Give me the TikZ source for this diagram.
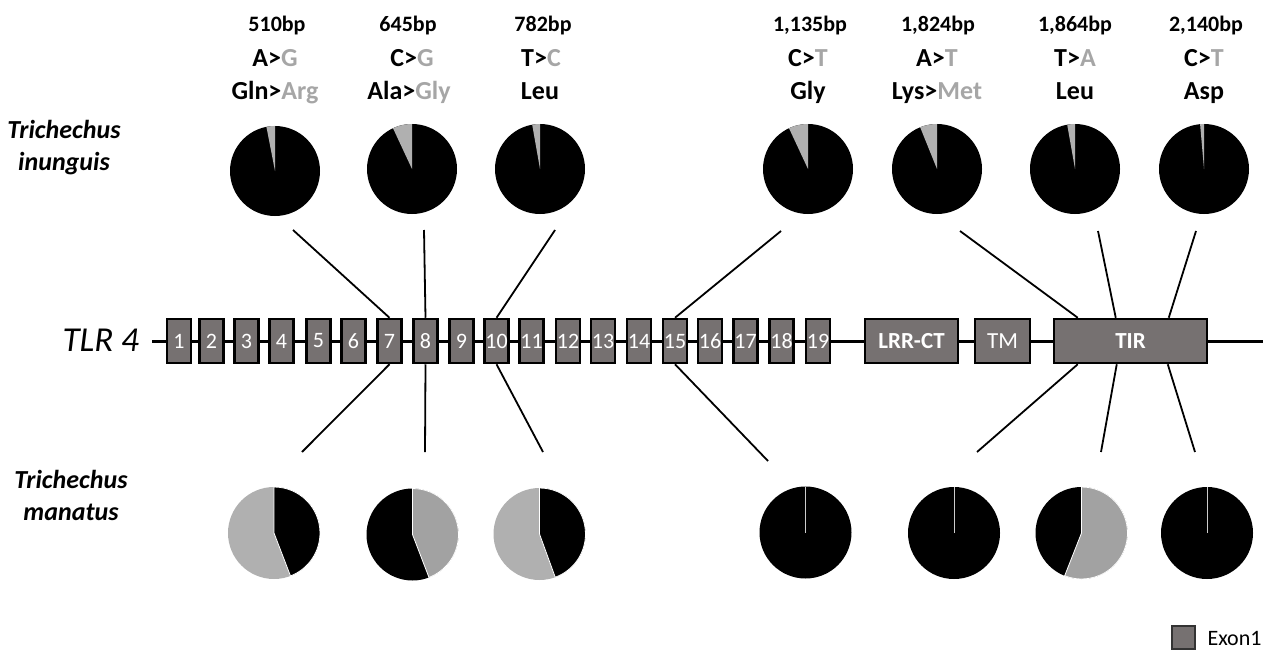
\documentclass[tikz,border=0pt]{standalone}
\usepackage{fontspec}
\setmainfont{Carlito}
\usetikzlibrary{calc}
\definecolor{exongray}{HTML}{767171}
\definecolor{piegray}{HTML}{B0B0B0}
\definecolor{snpgray}{HTML}{A6A6A6}

\begin{document}
\begin{tikzpicture}[x=1pt,y=1pt,
        exon/.style={draw=black, line width=2.5, fill=exongray, text=white, minimum width=24, minimum height=44, inner sep=0, font=\fontsize{22}{24}\selectfont},
        protdomain/.style={exon, font=\fontsize{23}{25}\selectfont\bfseries},
        pie/.style={circle, fill=black, inner sep=0, minimum size=90},
        lowpie/.style={pie, minimum size=92},
        lab/.style={anchor=base, font=\fontsize{22}{26}\selectfont\bfseries},
        snp/.style={lab, font=\fontsize{26}{30}\selectfont\bfseries},
        species/.style={anchor=base, align=center, font=\fontsize{26}{32}\selectfont\bfseries\itshape},
        link/.style={line width=1.8}]
            \useasboundingbox (0,0) rectangle (1263,-650);

            % gene backbone
            \coordinate (gstart) at (152,-341);
            \coordinate (gend) at (1263,-341);
            \draw[line width=3] (gstart) -- (gend);
            \node[anchor=base west, font=\fontsize{35}{40}\selectfont\itshape] (tlr) at (59,-351) {TLR 4};

            % exons
            \node[exon] (e1) at (179,-341) {1};
            \node[exon] (e2) at (211.5,-341) {2};
            \node[exon] (e3) at (246.5,-341) {3};
            \node[exon] (e4) at (281.5,-341) {4};
            \node[exon] (e5) at (318.5,-341) {5};
            \node[exon] (e6) at (353.5,-341) {6};
            \node[exon] (e7) at (389.5,-341) {7};
            \node[exon] (e8) at (425.5,-341) {8};
            \node[exon] (e9) at (461.5,-341) {9};
            \node[exon] (e10) at (496.5,-341) {10};
            \node[exon] (e11) at (531.5,-341) {11};
            \node[exon] (e12) at (568,-341) {12};
            \node[exon] (e13) at (603,-341) {13};
            \node[exon] (e14) at (639,-341) {14};
            \node[exon] (e15) at (675,-341) {15};
            \node[exon] (e16) at (710,-341) {16};
            \node[exon] (e17) at (745.5,-341) {17};
            \node[exon] (e18) at (781.5,-341) {18};
            \node[exon] (e19) at (818,-341) {19};
            \node[protdomain, minimum width=93] (lrr) at (911.5,-341) {LRR-CT};
            \node[exon, minimum width=55, font=\fontsize{23}{25}\selectfont] (tm) at (1002.5,-341) {TM};
            \node[protdomain, minimum width=153] (tir) at (1130.5,-341) {TIR};

            % species
            \node[species] (inung) at (64,-170) {Trichechus\\inunguis};
            \node[species] (manat) at (71,-520) {Trichechus\\manatus};

            % SNP labels
            \node[lab] (bp1) at (277,-32) {510bp};
            \node[snp] (nt1) at (275,-67) {A>\textcolor{snpgray}{G}};
            \node[snp] (aa1) at (275,-100) {Gln>\textcolor{snpgray}{Arg}};
            \node[lab] (bp2) at (408,-32) {645bp};
            \node[snp] (nt2) at (412,-67) {C>\textcolor{snpgray}{G}};
            \node[snp] (aa2) at (409,-100) {Ala>\textcolor{snpgray}{Gly}};
            \node[lab] (bp3) at (543,-32) {782bp};
            \node[snp] (nt3) at (541,-67) {T>\textcolor{snpgray}{C}};
            \node[snp] (aa3) at (540,-100) {Leu};
            \node[lab] (bp4) at (810,-32) {1,135bp};
            \node[snp] (nt4) at (808,-67) {C>\textcolor{snpgray}{T}};
            \node[snp] (aa4) at (808,-100) {Gly};
            \node[lab] (bp5) at (938,-32) {1,824bp};
            \node[snp] (nt5) at (937,-67) {A>\textcolor{snpgray}{T}};
            \node[snp] (aa5) at (937,-100) {Lys>\textcolor{snpgray}{Met}};
            \node[lab] (bp6) at (1075,-32) {1,864bp};
            \node[snp] (nt6) at (1075,-67) {T>\textcolor{snpgray}{A}};
            \node[snp] (aa6) at (1075,-100) {Leu};
            \node[lab] (bp7) at (1206,-32) {2,140bp};
            \node[snp] (nt7) at (1204,-67) {C>\textcolor{snpgray}{T}};
            \node[snp] (aa7) at (1204,-100) {Asp};

            % Trichechus inunguis pies
            \node[pie] (pt1) at (275,-171) {};
            \node[pie] (pt2) at (412,-169) {};
            \node[pie] (pt3) at (540,-169) {};
            \node[pie] (pt4) at (808,-169) {};
            \node[pie] (pt5) at (937,-169) {};
            \node[pie] (pt6) at (1075,-169) {};
            \node[pie] (pt7) at (1204,-169) {};
            \fill[piegray] (pt1.center) -- ++(90:45) arc[start angle=90, end angle=101, radius=45] -- cycle;
            \fill[piegray] (pt2.center) -- ++(90:45) arc[start angle=90, end angle=115, radius=45] -- cycle;
            \fill[piegray] (pt3.center) -- ++(90:45) arc[start angle=90, end angle=100, radius=45] -- cycle;
            \fill[piegray] (pt4.center) -- ++(90:45) arc[start angle=90, end angle=115, radius=45] -- cycle;
            \fill[piegray] (pt5.center) -- ++(90:45) arc[start angle=90, end angle=112, radius=45] -- cycle;
            \fill[piegray] (pt6.center) -- ++(90:45) arc[start angle=90, end angle=100, radius=45] -- cycle;
            \fill[piegray] (pt7.center) -- ++(90:45) arc[start angle=90, end angle=95, radius=45] -- cycle;

            % Trichechus manatus pies
            \node[lowpie, fill=piegray] (pb1) at (274,-533) {};
            \node[lowpie] (pb2) at (412.5,-534.5) {};
            \node[lowpie, fill=piegray] (pb3) at (539.5,-534) {};
            \node[lowpie] (pb4) at (805.5,-532.5) {};
            \node[lowpie] (pb5) at (954,-533) {};
            \node[lowpie] (pb6) at (1081.5,-533) {};
            \node[lowpie] (pb7) at (1207,-533) {};
            \filldraw[black, draw=white, line width=0.8] (pb1.center) -- ++(90:46) arc[start angle=90, end angle=-69, radius=46] -- cycle;
            \filldraw[fill=piegray!92!black, draw=white, line width=0.8] (pb2.center) -- ++(90:46) arc[start angle=90, end angle=-69, radius=46] -- cycle;
            \filldraw[black, draw=white, line width=0.8] (pb3.center) -- ++(90:46) arc[start angle=90, end angle=-70, radius=46] -- cycle;
            \filldraw[fill=piegray!92!black, draw=white, line width=0.8] (pb6.center) -- ++(90:46) arc[start angle=90, end angle=-111.5, radius=46] -- cycle;
            \draw[white!60!gray, line width=1] (pb4.center) -- ++(90:46);
            \draw[white!60!gray, line width=1] (pb5.center) -- ++(90:46);
            \draw[white!60!gray, line width=1] (pb7.center) -- ++(90:46);

            % connectors
            \coordinate (t1) at (293,-230);
            \coordinate (t2) at (424,-230);
            \coordinate (t3) at (555,-230);
            \coordinate (t4) at (781,-231);
            \coordinate (t5) at (960,-231);
            \coordinate (t6) at (1098,-231);
            \coordinate (t7) at (1196,-231);
            \coordinate (b1) at (302,-452);
            \coordinate (b2) at (425,-452);
            \coordinate (b3) at (543,-452);
            \coordinate (b4) at (768,-461);
            \coordinate (b5) at (977,-452);
            \coordinate (b6) at (1101,-452);
            \coordinate (b7) at (1195,-452);
            \draw[link] (t1) -- (e7.north);
            \draw[link] (t2) -- (e8.north);
            \draw[link] (t3) -- (e10.north);
            \draw[link] (t4) -- (e15.north);
            \draw[link] (t5) -- ([xshift=25]tir.north west);
            \draw[link] (t6) -- ([xshift=63]tir.north west);
            \draw[link] (t7) -- ([xshift=116]tir.north west);
            \draw[link] (e7.south) -- (b1);
            \draw[link] (e8.south) -- (b2);
            \draw[link] (e10.south) -- (b3);
            \draw[link] (e15.south) -- (b4);
            \draw[link] ([xshift=25]tir.south west) -- (b5);
            \draw[link] ([xshift=64]tir.south west) -- (b6);
            \draw[link] ([xshift=115]tir.south west) -- (b7);

            % legend
            \node[draw=black!80, line width=2, fill=exongray, minimum size=23, inner sep=0] (leg) at (1183.5,-637) {};
            \node[anchor=base west, font=\fontsize{22}{26}\selectfont] (legtext) at (1204,-645) {Exon1};
\end{tikzpicture}
\end{document}
